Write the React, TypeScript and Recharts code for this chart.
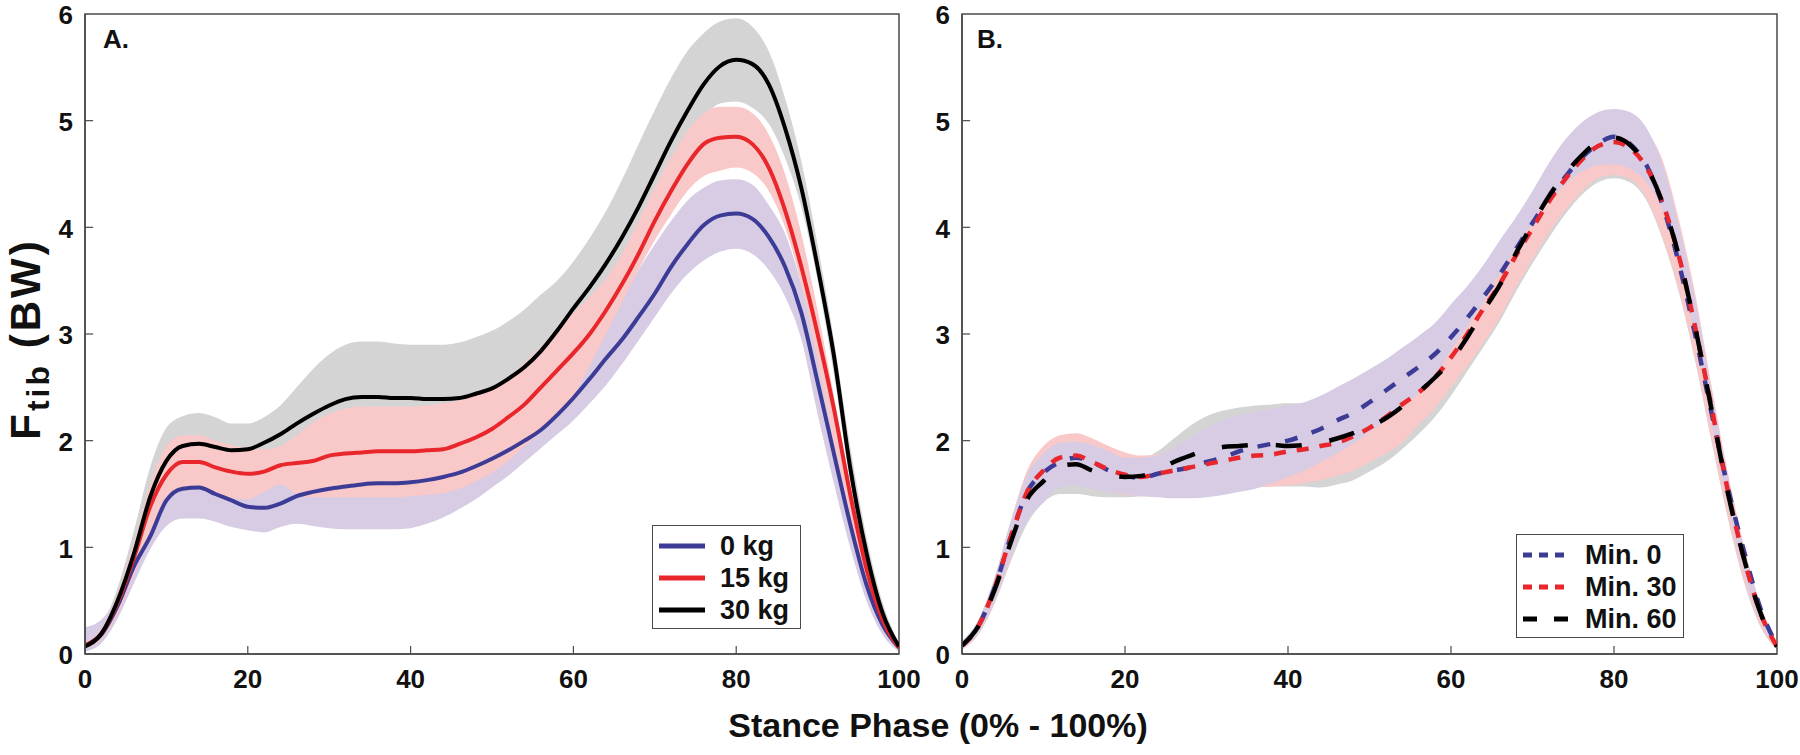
import React from "react";
import { ComposedChart, Area, Line, XAxis, YAxis, ReferenceLine, ReferenceArea } from "recharts";

const FONT = "'Liberation Sans', Arial, Helvetica, sans-serif";
const AXIS = "#4a4a4a";
const INK = "#111";

const BLUE = "#3c3c96";
const RED = "#e8262b";
const BLACK = "#000000";
const GREY_BAND = "#d4d4d4";
const PINK_BAND = "#f9c8c8";
const LILAC_BAND = "#d7cce4";

// stance phase (%), every 2 %
const STANCE = [
  0, 2, 4, 6, 8, 10, 12, 14, 16, 18, 20, 22, 24, 26, 28, 30, 32, 34, 36, 38, 40, 42, 44, 46, 48, 50,
  52, 54, 56, 58, 60, 62, 64, 66, 68, 70, 72, 74, 76, 78, 80, 82, 84, 86, 88, 90, 92, 94, 96, 98, 100,
];
const X_TICKS = [0, 20, 40, 60, 80, 100];
const Y_TICKS = [0, 1, 2, 3, 4, 5, 6];

// ---- Panel A: load (0 / 15 / 30 kg), mean and +/- SD band
const A_KG0 = [
  0.08, 0.18, 0.45, 0.82, 1.1, 1.44, 1.55, 1.56, 1.5, 1.44, 1.38, 1.37, 1.41, 1.48, 1.52, 1.55, 1.57, 1.59, 1.6, 1.6,
  1.61, 1.63, 1.66, 1.7, 1.76, 1.83, 1.91, 2.0, 2.1, 2.24, 2.4, 2.58, 2.77, 2.95, 3.16, 3.38, 3.63, 3.84, 4.02, 4.11,
  4.13, 4.08, 3.91, 3.63, 3.2, 2.55, 1.88, 1.22, 0.65, 0.27, 0.06,
];
const A_KG0_LO = [
  0.02, 0.1, 0.33, 0.66, 0.98, 1.2, 1.27, 1.27, 1.24, 1.19, 1.16, 1.14, 1.19, 1.22, 1.2, 1.18, 1.17, 1.17, 1.17, 1.17,
  1.18, 1.22, 1.28, 1.36, 1.45, 1.56, 1.67, 1.8, 1.93, 2.06, 2.19, 2.35, 2.52, 2.72, 2.94, 3.16, 3.38, 3.56, 3.69, 3.77,
  3.8, 3.75, 3.6, 3.35, 2.95, 2.25, 1.6, 1.0, 0.5, 0.18, 0.02,
];
const A_KG0_HI = [
  0.25, 0.32, 0.55, 0.95, 1.3, 1.68, 1.83, 1.85, 1.78, 1.7, 1.6, 1.6, 1.63, 1.74, 1.84, 1.92, 1.96, 2.0, 2.02, 2.03,
  2.04, 2.05, 2.06, 2.08, 2.12, 2.17, 2.24, 2.32, 2.42, 2.55, 2.7, 2.88, 3.08, 3.35, 3.6, 3.84, 4.06, 4.25, 4.37, 4.44,
  4.45, 4.4, 4.21, 3.94, 3.47, 2.85, 2.15, 1.45, 0.8, 0.35, 0.1,
];
const A_KG15 = [
  0.08, 0.19, 0.48, 0.9, 1.38, 1.68, 1.8, 1.8, 1.75, 1.71, 1.69, 1.71, 1.77, 1.79, 1.81, 1.86, 1.88, 1.89, 1.9, 1.9,
  1.9, 1.91, 1.92, 1.97, 2.03, 2.11, 2.22, 2.34, 2.5, 2.66, 2.82, 3.0, 3.22, 3.47, 3.75, 4.06, 4.34, 4.59, 4.78, 4.84,
  4.85, 4.78, 4.56, 4.16, 3.63, 3.0, 2.3, 1.5, 0.8, 0.32, 0.06,
];
const A_KG15_LO = [
  0.05, 0.14, 0.38, 0.74, 1.15, 1.42, 1.55, 1.56, 1.51, 1.46, 1.45, 1.52, 1.59, 1.5, 1.47, 1.47, 1.47, 1.47, 1.47, 1.47,
  1.48, 1.49, 1.51, 1.55, 1.62, 1.7, 1.81, 1.95, 2.08, 2.24, 2.42, 2.7, 3.0, 3.3, 3.6, 3.88, 4.12, 4.34, 4.48, 4.53,
  4.56, 4.51, 4.34, 4.0, 3.47, 2.75, 1.98, 1.25, 0.62, 0.24, 0.04,
];
const A_KG15_HI = [
  0.1, 0.23, 0.56, 1.04, 1.58, 1.95, 2.05, 2.05, 2.0, 1.96, 1.93, 1.92, 1.95, 2.05, 2.17, 2.25, 2.3, 2.32, 2.32, 2.32,
  2.32, 2.33, 2.35, 2.38, 2.43, 2.5, 2.6, 2.73, 2.88, 3.05, 3.2, 3.35, 3.52, 3.76, 4.06, 4.37, 4.65, 4.9, 5.07, 5.13,
  5.13, 5.07, 4.87, 4.5, 3.94, 3.22, 2.42, 1.6, 0.88, 0.36, 0.08,
];
const A_KG30 = [
  0.07, 0.19, 0.5, 0.94, 1.47, 1.81, 1.95, 1.97, 1.94, 1.91, 1.92, 1.98, 2.06, 2.16, 2.25, 2.33, 2.39, 2.41, 2.41, 2.4,
  2.4, 2.39, 2.39, 2.4, 2.44, 2.49, 2.58, 2.69, 2.84, 3.03, 3.24, 3.44, 3.66, 3.91, 4.19, 4.5, 4.81, 5.09, 5.34, 5.51,
  5.57, 5.53, 5.34, 4.93, 4.37, 3.63, 2.8, 1.75, 0.95, 0.38, 0.07,
];
const A_KG30_LO = [
  0.03, 0.12, 0.38, 0.73, 1.19, 1.5, 1.67, 1.7, 1.67, 1.66, 1.68, 1.74, 1.8, 1.83, 1.85, 1.86, 1.88, 1.89, 1.89, 1.89,
  1.9, 1.88, 1.88, 1.88, 1.91, 1.95, 2.04, 2.15, 2.31, 2.54, 2.8, 3.0, 3.2, 3.45, 3.75, 4.05, 4.4, 4.75, 5.02, 5.16,
  5.18, 5.12, 4.97, 4.65, 4.19, 3.5, 2.62, 1.62, 0.82, 0.3, 0.04,
];
const A_KG30_HI = [
  0.12, 0.26, 0.62, 1.15, 1.75, 2.12, 2.23, 2.26, 2.22, 2.16, 2.16, 2.22, 2.33, 2.5, 2.67, 2.81, 2.9, 2.93, 2.93, 2.91,
  2.9, 2.9, 2.9, 2.92, 2.97, 3.03, 3.12, 3.23, 3.37, 3.5, 3.68, 3.9, 4.15, 4.45, 4.78, 5.1, 5.4, 5.65, 5.82, 5.93,
  5.96, 5.88, 5.65, 5.21, 4.62, 3.84, 2.95, 1.95, 1.1, 0.48, 0.1,
];

// ---- Panel B: time (Min. 0 / 30 / 60)
const B_MIN0 = [
  0.08, 0.26, 0.62, 1.1, 1.52, 1.7, 1.8, 1.84, 1.8, 1.72, 1.67, 1.65, 1.69, 1.72, 1.75, 1.8, 1.84, 1.9, 1.94, 1.97,
  2.0, 2.05, 2.11, 2.19, 2.26, 2.36, 2.47, 2.58, 2.69, 2.81, 2.97, 3.15, 3.35, 3.56, 3.8, 4.04, 4.27, 4.47, 4.65, 4.78,
  4.85, 4.78, 4.58, 4.2, 3.65, 2.98, 2.25, 1.55, 0.95, 0.42, 0.08,
];
const B_MIN0_LO = [
  0.05, 0.2, 0.5, 0.92, 1.25, 1.42, 1.56, 1.58, 1.55, 1.52, 1.5, 1.48, 1.47, 1.46, 1.46, 1.47, 1.49, 1.52, 1.55, 1.6,
  1.66, 1.72, 1.8, 1.88, 1.97, 2.08, 2.19, 2.31, 2.45, 2.6, 2.85, 3.07, 3.3, 3.57, 3.8, 4.04, 4.24, 4.4, 4.52, 4.58,
  4.59, 4.55, 4.42, 4.15, 3.65, 2.95, 2.15, 1.38, 0.75, 0.3, 0.05,
];
const B_MIN0_HI = [
  0.12, 0.32, 0.72, 1.25, 1.68, 1.88, 1.98, 1.99, 1.96, 1.9, 1.84, 1.84, 1.86, 1.93, 2.03, 2.12, 2.19, 2.24, 2.27, 2.3,
  2.33, 2.36, 2.42, 2.5, 2.58, 2.67, 2.76, 2.87, 2.98, 3.1, 3.28, 3.45, 3.65, 3.88, 4.1, 4.34, 4.6, 4.82, 4.98, 5.08,
  5.11, 5.08, 4.93, 4.58, 4.0, 3.3, 2.45, 1.65, 0.98, 0.45, 0.1,
];
const B_MIN30 = [
  0.08, 0.26, 0.62, 1.1, 1.52, 1.72, 1.84, 1.86, 1.8, 1.73, 1.68, 1.66, 1.69, 1.72, 1.75, 1.78, 1.81, 1.84, 1.86, 1.87,
  1.9, 1.92, 1.95, 1.98, 2.04, 2.12, 2.22, 2.34, 2.45, 2.59, 2.78, 3.0, 3.24, 3.47, 3.74, 3.99, 4.24, 4.45, 4.63, 4.76,
  4.8, 4.74, 4.56, 4.22, 3.72, 3.05, 2.3, 1.52, 0.88, 0.38, 0.07,
];
const B_MIN30_LO = [
  0.04, 0.19, 0.48, 0.9, 1.28, 1.48, 1.58, 1.6, 1.56, 1.52, 1.49, 1.48, 1.48, 1.5, 1.51, 1.53, 1.54, 1.55, 1.56, 1.57,
  1.58, 1.6, 1.63, 1.67, 1.72, 1.8, 1.88, 1.98, 2.15, 2.3, 2.5, 2.7, 2.92, 3.16, 3.44, 3.7, 3.95, 4.16, 4.33, 4.46,
  4.49, 4.45, 4.27, 3.9, 3.4, 2.75, 2.0, 1.28, 0.68, 0.26, 0.04,
];
const B_MIN30_HI = [
  0.12, 0.3, 0.7, 1.25, 1.72, 1.95, 2.05, 2.07, 2.02, 1.95, 1.89, 1.86, 1.87, 1.9, 1.95, 2.0, 2.05, 2.08, 2.1, 2.12,
  2.15, 2.2, 2.25, 2.3, 2.38, 2.45, 2.55, 2.65, 2.78, 2.92, 3.08, 3.3, 3.55, 3.78, 4.05, 4.3, 4.55, 4.75, 4.92, 5.03,
  5.07, 5.02, 4.9, 4.62, 4.06, 3.36, 2.5, 1.69, 1.0, 0.46, 0.1,
];
const B_MIN60 = [
  0.08, 0.26, 0.6, 1.05, 1.45, 1.62, 1.76, 1.78, 1.72, 1.68, 1.66, 1.67, 1.72, 1.8, 1.86, 1.91, 1.94, 1.95, 1.96, 1.96,
  1.95, 1.96, 1.98, 2.02, 2.07, 2.13, 2.21, 2.32, 2.45, 2.59, 2.75, 2.97, 3.22, 3.46, 3.76, 4.03, 4.29, 4.5, 4.67, 4.8,
  4.84, 4.77, 4.57, 4.22, 3.72, 3.05, 2.28, 1.5, 0.88, 0.38, 0.07,
];
const B_MIN60_LO = [
  0.04, 0.18, 0.47, 0.87, 1.22, 1.42, 1.5, 1.5, 1.48, 1.47, 1.47, 1.48, 1.5, 1.52, 1.53, 1.54, 1.55, 1.56, 1.57, 1.57,
  1.57, 1.57, 1.56, 1.59, 1.63, 1.71, 1.8, 1.92, 2.06, 2.22, 2.42, 2.65, 2.88, 3.12, 3.4, 3.66, 3.9, 4.12, 4.3, 4.42,
  4.46, 4.42, 4.25, 3.88, 3.38, 2.73, 1.98, 1.26, 0.66, 0.25, 0.04,
];
const B_MIN60_HI = [
  0.1, 0.28, 0.65, 1.15, 1.6, 1.82, 1.9, 1.92, 1.88, 1.84, 1.82, 1.83, 1.9, 2.02, 2.14, 2.23, 2.28, 2.31, 2.33, 2.34,
  2.35, 2.35, 2.37, 2.4, 2.45, 2.52, 2.6, 2.7, 2.8, 2.93, 3.08, 3.28, 3.5, 3.75, 4.0, 4.25, 4.5, 4.7, 4.87, 4.98,
  5.02, 4.98, 4.85, 4.5, 3.95, 3.25, 2.4, 1.6, 0.95, 0.4, 0.1,
];

const rowsA = STANCE.map((x, i) => ({
  x,
  kg0: A_KG0[i],
  kg15: A_KG15[i],
  kg30: A_KG30[i],
  kg0Sd: [A_KG0_LO[i], A_KG0_HI[i]],
  kg15Sd: [A_KG15_LO[i], A_KG15_HI[i]],
  kg30Sd: [A_KG30_LO[i], A_KG30_HI[i]],
}));

const rowsB = STANCE.map((x, i) => ({
  x,
  min0: B_MIN0[i],
  min30: B_MIN30[i],
  min60: B_MIN60[i],
  min0Sd: [B_MIN0_LO[i], B_MIN0_HI[i]],
  min30Sd: [B_MIN30_LO[i], B_MIN30_HI[i]],
  min60Sd: [B_MIN60_LO[i], B_MIN60_HI[i]],
}));

type Band = { key: string; fill: string };
type Series = { key: string; name: string; color: string; width: number; dash?: string; legendDash?: string };

// band draw order differs between panels (A: pink on top, B: lilac on top)
const BANDS_A: Band[] = [
  { key: "kg30Sd", fill: GREY_BAND },
  { key: "kg0Sd", fill: LILAC_BAND },
  { key: "kg15Sd", fill: PINK_BAND },
];
const SERIES_A: Series[] = [
  { key: "kg0", name: "0 kg", color: BLUE, width: 4 },
  { key: "kg15", name: "15 kg", color: RED, width: 4 },
  { key: "kg30", name: "30 kg", color: BLACK, width: 4 },
];
const BANDS_B: Band[] = [
  { key: "min60Sd", fill: GREY_BAND },
  { key: "min30Sd", fill: PINK_BAND },
  { key: "min0Sd", fill: LILAC_BAND },
];
const SERIES_B: Series[] = [
  { key: "min0", name: "Min. 0", color: BLUE, width: 4.5, dash: "13 15", legendDash: "9 7" },
  { key: "min30", name: "Min. 30", color: RED, width: 4.5, dash: "12 11", legendDash: "9 7" },
  { key: "min60", name: "Min. 60", color: BLACK, width: 4.5, dash: "26 28", legendDash: "14 17" },
];

const tickStyle = { fontSize: 26, fontWeight: 700, fill: INK, fontFamily: FONT };

function Panel({ rows, bands, series, width, margin }: {
  rows: any[];
  bands: Band[];
  series: Series[];
  width: number;
  margin: { top: number; right: number; bottom: number; left: number };
}) {
  return (
    <ComposedChart width={width} height={755} data={rows} margin={margin} style={{ overflow: "visible" }}>
      <XAxis
        dataKey="x"
        type="number"
        domain={[0, 100]}
        ticks={X_TICKS}
        interval={0}
        allowDataOverflow
        height={30}
        tickLine={false}
        tickSize={0}
        tickMargin={16}
        axisLine={{ stroke: AXIS, strokeWidth: 1.5 }}
        tick={tickStyle}
      />
      <YAxis
        type="number"
        domain={[0, 6]}
        ticks={Y_TICKS}
        interval={0}
        allowDataOverflow
        width={40}
        tickLine={false}
        tickSize={0}
        tickMargin={12}
        axisLine={{ stroke: AXIS, strokeWidth: 1.5 }}
        tick={{ ...tickStyle, dy: 1 }}
      />
      {bands.map(b => (
        <Area
          key={b.key}
          type="monotone"
          dataKey={b.key}
          stroke="none"
          fill={b.fill}
          fillOpacity={1}
          dot={false}
          activeDot={false}
          isAnimationActive={false}
        />
      ))}
      <ReferenceArea x1={0} x2={100} y1={0} y2={6} fill="none" stroke={AXIS} strokeWidth={1.5} />
      {/* inward ticks, like the original */}
      {X_TICKS.slice(1, -1).map(t => (
        <ReferenceLine key={"xt" + t} segment={[{ x: t, y: 0 }, { x: t, y: 0.075 }]} stroke={AXIS} strokeWidth={1.2} />
      ))}
      {Y_TICKS.slice(1, -1).map(t => (
        <ReferenceLine key={"yt" + t} segment={[{ x: 0, y: t }, { x: 1, y: t }]} stroke={AXIS} strokeWidth={1.2} />
      ))}
      {series.map(s => (
        <Line
          key={s.key}
          type="monotone"
          dataKey={s.key}
          stroke={s.color}
          strokeWidth={s.width}
          strokeDasharray={s.dash}
          dot={false}
          activeDot={false}
          isAnimationActive={false}
        />
      ))}
    </ComposedChart>
  );
}

function LegendBox({ series, left, top, width }: { series: Series[]; left: number; top: number; width: number }) {
  return (
    <div style={{
      position: "absolute", left, top, width, height: 104, boxSizing: "border-box",
      border: `1.5px solid ${AXIS}`, background: "#fff", paddingTop: 4,
    }}>
      {series.map(s => (
        <div key={s.key} style={{ display: "flex", alignItems: "center", height: 32 }}>
          <svg width={46} height={10} style={{ marginLeft: 6 }}>
            <line x1={0} y1={5} x2={46} y2={5} stroke={s.color} strokeWidth={5}
              strokeDasharray={s.legendDash} />
          </svg>
          <span style={{
            marginLeft: s.legendDash ? 16 : 15, fontFamily: FONT, fontWeight: 700, fontSize: 27, color: INK,
            lineHeight: "32px", whiteSpace: "nowrap",
          }}>
            {s.name}
          </span>
        </div>
      ))}
    </div>
  );
}

export default function App() {
  return (
    <div style={{ position: "absolute", left: 0, top: 0, width: 1800, height: 755, background: "#fff", overflow: "hidden" }}>
      <style>{"svg.recharts-surface{overflow:visible}"}</style>
      <div style={{ position: "absolute", left: 0, top: 0 }}>
        <Panel rows={rowsA} bands={BANDS_A} series={SERIES_A} width={910}
          margin={{ top: 14, right: 11, bottom: 71, left: 45 }} />
      </div>
      <div style={{ position: "absolute", left: 910, top: 0 }}>
        <Panel rows={rowsB} bands={BANDS_B} series={SERIES_B} width={880}
          margin={{ top: 14, right: 13, bottom: 71, left: 12 }} />
      </div>

      <svg width={1800} height={755} style={{ position: "absolute", left: 0, top: 0, pointerEvents: "none" }}>
        <text x={103} y={48} fontFamily={FONT} fontWeight={700} fontSize={26} fill={INK}>A.</text>
        <text x={977} y={48} fontFamily={FONT} fontWeight={700} fontSize={26} fill={INK}>B.</text>
        <text x={938} y={737} textAnchor="middle" fontFamily={FONT} fontWeight={700} fontSize={34} fill={INK}>
          Stance Phase (0% - 100%)
        </text>
        <text transform="rotate(-90)" x={-339} y={40} textAnchor="middle" fontFamily={FONT} fontWeight={700}
          fontSize={42} letterSpacing={3} fill={INK}>
          F<tspan fontSize={32} dy={9}>tib</tspan><tspan dy={-9}> (BW)</tspan>
        </text>
      </svg>

      <LegendBox series={SERIES_A} left={652} top={525} width={149} />
      <LegendBox series={SERIES_B} left={1516} top={534} width={168} />
    </div>
  );
}
